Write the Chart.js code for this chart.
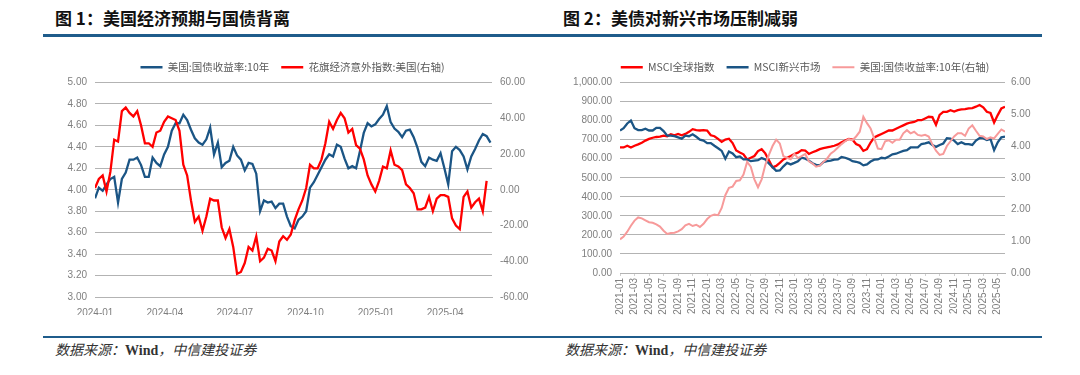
<!DOCTYPE html>
<html>
<head>
<meta charset="utf-8">
<script src="https://cdn.jsdelivr.net/npm/chart.js@4.4.1/dist/chart.umd.min.js"></script>
<style>
body{margin:0;background:#fff;width:1080px;height:375px;position:relative;overflow:hidden;font-family:"Noto Sans CJK SC",sans-serif;}
.title{position:absolute;top:8px;line-height:20px;font-size:17px;font-weight:bold;color:#111;}
.rule{position:absolute;left:43px;width:999px;background:#1f5c8b;}
.src{position:absolute;top:340px;line-height:18px;font-size:14px;font-style:italic;color:#333;}
.src b{font-family:"Liberation Serif",serif;font-style:normal;}
.box{position:absolute;}
</style>
</head>
<body>
<div class="title" style="left:55px">图 1：美国经济预期与国债背离</div>
<div class="title" style="left:563px">图 2：美债对新兴市场压制减弱</div>
<div class="rule" style="top:34px;height:3px"></div>
<div class="rule" style="top:336px;height:2px"></div>
<div class="src" style="left:55px">数据来源：<b>Wind</b>，中信建投证券</div>
<div class="src" style="left:565px">数据来源：<b>Wind</b>，中信建投证券</div>

<div class="box" style="left:43px;top:48px"><canvas id="c1" width="499" height="267"></canvas></div>
<div class="box" style="left:565px;top:48px"><canvas id="c2" width="480" height="270"></canvas></div>

<script>
// chart 1: days since 2024-01-01, one value every 5 days
var leftTickDays = [0, 91, 182, 274, 366, 456];
var leftTickLabels = ['2024-01', '2024-04', '2024-07', '2024-10', '2025-01', '2025-04'];
var leftStepDays = 5;
var ust10y = [3.92, 4.02, 3.99, 4.05, 4.10, 4.12, 3.88, 4.10, 4.16, 4.28,
  4.28, 4.30, 4.23, 4.12, 4.12, 4.30, 4.25, 4.22, 4.33, 4.40,
  4.55, 4.62, 4.62, 4.70, 4.65, 4.56, 4.48, 4.44, 4.42, 4.47,
  4.58, 4.33, 4.44, 4.21, 4.25, 4.27, 4.40, 4.32, 4.28, 4.18,
  4.25, 4.24, 4.15, 3.80, 3.90, 3.88, 3.89, 3.83, 3.87, 3.87,
  3.75, 3.66, 3.64, 3.72, 3.75, 3.80, 4.02, 4.07, 4.14, 4.21,
  4.28, 4.33, 4.31, 4.42, 4.40, 4.29, 4.20, 4.22, 4.20, 4.36,
  4.53, 4.62, 4.59, 4.61, 4.66, 4.70, 4.78, 4.63, 4.57, 4.54,
  4.49, 4.55, 4.56, 4.49, 4.39, 4.26, 4.22, 4.30, 4.28, 4.27,
  4.34, 4.20, 4.05, 4.36, 4.40, 4.37, 4.31, 4.19, 4.31, 4.38,
  4.46, 4.52, 4.50, 4.44];
var citiSurprise = [1, 6, 8, -1, 10, 28, 27, 44, 46, 43,
  41, 44, 36, 26, 26, 24, 32, 33, 38, 41,
  40, 39, 33, 14, 8, -6, -18, -15, -23, -15,
  -5, -6, -6, -21, -27, -22, -32, -47, -46, -41,
  -32, -34, -26, -40, -38, -33, -34, -40, -29, -26,
  -28, -25, -17, -11, -6, 1, 14, 12, 12, 17,
  26, 38, 34, 39, 43, 40, 32, 34, 25, 23,
  17, 8, 3, -1, 5, 13, 12, 22, 14, 13,
  11, 3, 1, -2, -11, -11, -10, -4, -12, -5,
  -3, -3, -4, -16, -20, -22, -4, -1, -10, -7,
  -5, -12, 5];

// chart 2: months since 2021-01, one value every half month
var rightTickMonths = [0, 2, 4, 6, 8, 10, 12, 14, 16, 18, 20, 22, 24, 26,
  28, 30, 32, 34, 36, 38, 40, 42, 44, 46, 48, 50, 52];
var rightTickLabels = ['2021-01', '2021-03', '2021-05', '2021-07', '2021-09', '2021-11',
  '2022-01', '2022-03', '2022-05', '2022-07', '2022-09', '2022-11',
  '2023-01', '2023-03', '2023-05', '2023-07', '2023-09', '2023-11',
  '2024-01', '2024-03', '2024-05', '2024-07', '2024-09', '2024-11',
  '2025-01', '2025-03', '2025-05'];
var rightStepMonths = 0.5;
var msciWorld = [659, 659, 668, 659, 668, 675, 684, 695, 704, 710,
  714, 716, 721, 718, 728, 723, 730, 723, 730, 741,
  755, 750, 748, 750, 748, 723, 718, 704, 688, 700,
  705, 682, 643, 632, 623, 596, 605, 614, 640, 650,
  628, 592, 555, 562, 578, 596, 605, 614, 625, 632,
  645, 643, 625,
  634, 641, 650, 655, 659, 663, 668, 675, 686, 695,
  704, 700, 677, 668, 641, 650, 685, 712, 721, 730,
  739, 748, 748, 757, 766, 775, 784, 790, 793, 802,
  802, 811, 820, 818, 778, 830, 846, 846, 855, 848,
  855, 859, 860, 864, 866, 873, 882, 870, 846, 840,
  790, 829, 864, 873];
var msciEM = [748, 760, 785, 800, 760, 750, 750, 757, 748, 748,
  762, 762, 745, 721, 721, 718, 712, 705, 721, 718,
  728, 715, 700, 695, 682, 682, 668, 655, 641, 600,
  638, 628, 608, 612, 596, 596, 587, 590, 592, 603,
  596, 575, 556, 536, 538, 560, 578, 570, 578, 587,
  605, 600, 590,
  576, 568, 565, 582, 587, 590, 595, 596, 609, 605,
  598, 587, 584, 578, 565, 570, 585, 595, 596, 605,
  602, 612, 623, 626, 634, 641, 645, 659, 659, 659,
  677, 680, 686, 672, 662, 672, 680, 708, 705, 695,
  677, 686, 677, 677, 672, 695, 708, 708, 698, 704,
  645, 686, 712, 716];
var ust10yLong = [1.06, 1.15, 1.30, 1.49, 1.65, 1.75, 1.72, 1.66, 1.60, 1.58,
  1.53, 1.46, 1.33, 1.23, 1.26, 1.27, 1.31, 1.38, 1.50, 1.55,
  1.48, 1.52, 1.45, 1.55, 1.70, 1.80, 1.84, 1.82, 2.05, 2.45,
  2.68, 2.72, 2.90, 2.92, 3.10, 3.50, 3.35, 2.95, 2.70, 2.95,
  3.40, 3.72, 4.00, 4.20, 4.08, 3.68, 3.63, 3.58, 3.75, 3.62,
  3.68, 3.75, 3.52,
  3.45, 3.35, 3.38, 3.50, 3.60, 3.76, 3.84, 3.95, 4.06, 4.15,
  4.22, 4.18, 4.30, 4.45, 4.92, 4.72, 4.55, 4.24, 3.92, 3.90,
  4.15, 4.18, 4.10, 4.20, 4.20, 4.40, 4.50, 4.40, 4.45, 4.35,
  4.32, 4.35, 4.30, 4.05, 3.85, 3.72, 3.75, 4.00, 4.15, 4.30,
  4.40, 4.40, 4.32, 4.55, 4.65, 4.48, 4.32, 4.30, 4.22, 4.27,
  4.24, 4.38, 4.52, 4.45];

var BLUE = '#1b5585', RED = '#ff0000', PINK = '#f79a9a';
var GRID = '#b3b3b3', TICK = '#7f7f7f';
var tickFont = {family: '"Liberation Sans", Arial, sans-serif', size: 10};
var legendFont = {family: '"Noto Sans CJK SC", sans-serif', size: 10.5};

function pts(arr, step) {
  return arr.map(function (v, i) { return {x: i * step, y: v}; });
}
function line(label, arr, step, color, axis, order, w) {
  return {label: label, data: pts(arr, step), borderColor: color, backgroundColor: color,
    borderWidth: w, pointRadius: 0, tension: 0, yAxisID: axis, order: order, pointStyle: 'line'};
}
var legend = {
  position: 'top',
  labels: {usePointStyle: true, pointStyle: 'line', pointStyleWidth: 22, font: legendFont, color: '#595959', padding: 12,
    sort: function (a, b) { return a.datasetIndex - b.datasetIndex; }}
};

new Chart(document.getElementById('c1'), {
  type: 'line',
  data: {datasets: [
    line('美国:国债收益率:10年', ust10y, leftStepDays, BLUE, 'y', 1, 2.3),
    line('花旗经济意外指数:美国(右轴)', citiSurprise, leftStepDays, RED, 'y1', 0, 2.3)
  ]},
  options: {
    responsive: false, animation: false, devicePixelRatio: 1,
    layout: {padding: {top: 2}},
    plugins: {legend: legend, tooltip: {enabled: false}},
    scales: {
      x: {type: 'linear', min: 0, max: 517,
        afterBuildTicks: function (s) { s.ticks = leftTickDays.map(function (v) { return {value: v}; }); },
        afterFit: function (s) { s.height = 18; },
        ticks: {autoSkip: false, maxRotation: 0, font: tickFont, color: TICK, padding: 2,
          callback: function (v) { return leftTickLabels[leftTickDays.indexOf(v)]; }},
        grid: {display: false}, border: {display: true, color: GRID}},
      y: {position: 'left', min: 3, max: 5,
        afterFit: function (s) { s.width = 52; },
        ticks: {stepSize: 0.2, font: tickFont, color: TICK, padding: 8,
          callback: function (v) { return v.toFixed(2); }},
        grid: {color: GRID, drawTicks: false}, border: {display: false}},
      y1: {position: 'right', min: -60, max: 60,
        afterFit: function (s) { s.width = 50; },
        ticks: {stepSize: 20, font: tickFont, color: TICK, padding: 8,
          callback: function (v) { return v.toFixed(2); }},
        grid: {drawOnChartArea: false, drawTicks: false}, border: {display: false}}
    }
  }
});

new Chart(document.getElementById('c2'), {
  type: 'line',
  data: {datasets: [
    line('MSCI全球指数', msciWorld, rightStepMonths, RED, 'y', 2, 2.3),
    line('MSCI新兴市场', msciEM, rightStepMonths, BLUE, 'y', 1, 2.3),
    line('美国:国债收益率:10年(右轴)', ust10yLong, rightStepMonths, PINK, 'y1', 0, 2)
  ]},
  options: {
    responsive: false, animation: false, devicePixelRatio: 1,
    layout: {padding: {top: 2}},
    plugins: {legend: legend, tooltip: {enabled: false}},
    scales: {
      x: {type: 'linear', min: 0, max: 53,
        afterBuildTicks: function (s) { s.ticks = rightTickMonths.map(function (v) { return {value: v}; }); },
        afterFit: function (s) { s.height = 45; },
        ticks: {autoSkip: false, minRotation: 90, maxRotation: 90, font: tickFont, color: TICK, padding: 2,
          callback: function (v) { return rightTickLabels[rightTickMonths.indexOf(v)]; }},
        grid: {drawOnChartArea: false, tickLength: 3, color: '#d0d0d0'}, border: {display: true, color: GRID}},
      y: {position: 'left', min: 0, max: 1000,
        afterFit: function (s) { s.width = 55; },
        ticks: {stepSize: 100, font: tickFont, color: TICK, padding: 8,
          callback: function (v) { return v.toLocaleString('en-US', {minimumFractionDigits: 2, maximumFractionDigits: 2}); }},
        grid: {color: GRID, drawTicks: false}, border: {display: false}},
      y1: {position: 'right', min: 0, max: 6,
        afterFit: function (s) { s.width = 40; },
        ticks: {stepSize: 1, font: tickFont, color: TICK, padding: 6,
          callback: function (v) { return v.toFixed(2); }},
        grid: {drawOnChartArea: false, drawTicks: false}, border: {display: false}}
    }
  }
});
</script>
</body>
</html>
